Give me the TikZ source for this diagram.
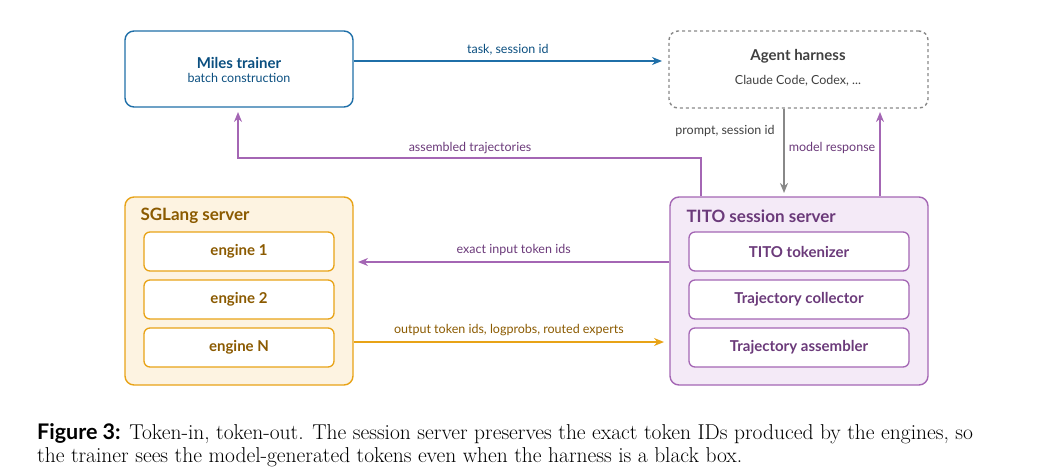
\documentclass[tikz,border=0pt]{standalone}
\usepackage{fontspec}
\newfontfamily\sff{Lato}
\usetikzlibrary{arrows.meta}
\definecolor{bl}{HTML}{1F6FA8}\definecolor{bld}{HTML}{0B4F80}
\definecolor{or}{HTML}{E8A317}\definecolor{orf}{HTML}{FDF3E1}\definecolor{ord}{HTML}{8B5A00}
\definecolor{pu}{HTML}{A466B4}\definecolor{puf}{HTML}{F4EAF7}\definecolor{pud}{HTML}{6B3A7A}
\definecolor{gr}{HTML}{888888}
\begin{document}
\begin{tikzpicture}[x=1pt,y=-1pt,
 box/.style={draw,rounded corners=9pt,line width=1.4pt},
 inner/.style={draw,rounded corners=6pt,fill=white,line width=1.3pt,minimum width=190pt,minimum height=39pt,font=\sff\bfseries\fontsize{15}{17}\selectfont},
 lab/.style={font=\sff\fontsize{12.5}{14}\selectfont},
 arr/.style={-{Stealth[length=10pt,width=8pt]},line width=1.6pt}]
\useasboundingbox (0,0) rectangle (1059,476);
\node[box,draw=bl,minimum width=228pt,minimum height=76pt] (miles) at (239,69) {};
\node[font=\sff\bfseries\fontsize{15}{17}\selectfont,text=bld] at (239,63) {Miles trainer};
\node[lab,text=bld] at (239,78) {batch construction};
\node[box,draw=gr,dashed,minimum width=259pt,minimum height=77pt] (agent) at (798.5,69.5) {};
\node[font=\sff\bfseries\fontsize{15}{17}\selectfont,text=black!75] at (798,56) {Agent harness};
\node[lab,text=black!75] at (798,81) {Claude Code, Codex, ...};
\node[box,draw=or,fill=orf,minimum width=228pt,minimum height=188pt] (sg) at (239,291) {};
\node[anchor=west,font=\sff\bfseries\fontsize{17}{19}\selectfont,text=ord] at (137,216) {SGLang server};
\node[inner,draw=or,text=ord] (e1) at (239,251.5) {engine 1};
\node[inner,draw=or,text=ord] (e2) at (239,299.5) {engine 2};
\node[inner,draw=or,text=ord] (eN) at (239,347.5) {engine N};
\node[box,draw=pu,fill=puf,minimum width=258pt,minimum height=188pt] (tito) at (799,291) {};
\node[anchor=west,font=\sff\bfseries\fontsize{17}{19}\selectfont,text=pud] at (683,216) {TITO session server};
\node[inner,draw=pu,text=pud,minimum width=220pt] (t1) at (799,251.5) {TITO tokenizer};
\node[inner,draw=pu,text=pud,minimum width=220pt] (t2) at (799,299.5) {Trajectory collector};
\node[inner,draw=pu,text=pud,minimum width=220pt] (t3) at (799,347.5) {Trajectory assembler};
\coordinate (a1) at (662,61);
\draw[arr,draw=bl] (miles.east|-a1) -- (a1) node[lab,text=bld,midway,above=2pt]{task, session id};
\coordinate (c1) at (701,158);\coordinate (c2) at (238,158);\coordinate (c3) at (238,112);
\draw[arr,draw=pu] (c1|-tito.north) -- (c1) -- (c2) -- (c3);
\node[lab,text=pud] at (470,148) {assembled trajectories};
\coordinate (p1) at (784,193);
\draw[arr,draw=gr] (p1|-agent.south) -- (p1);
\node[lab,text=black!75] at (725,131) {prompt, session id};
\coordinate (m1) at (880,112);
\draw[arr,draw=pu] (m1|-tito.north) -- (m1);
\node[lab,text=pud] at (832,148) {model response};
\coordinate (x1) at (358,262);
\draw[arr,draw=pu] (tito.west|-x1) -- (x1) node[lab,text=pud,midway,above=2pt]{exact input token ids};
\coordinate (o1) at (664,342);
\draw[arr,draw=or] (sg.east|-o1) -- (o1) node[lab,text=ord,midway,above=2pt]{output token ids, logprobs, routed experts};
\node[anchor=west,font=\fontsize{21.5}{24}\selectfont,inner sep=0pt] (cap1) at (37,434) {{\sff\bfseries Figure 3:} Token-in, token-out. The session server preserves the exact token IDs produced by the engines, so};
\node[anchor=west,font=\fontsize{21.5}{24}\selectfont,inner sep=0pt] (cap2) at (37,457) {the trainer sees the model-generated tokens even when the harness is a black box.};
\end{tikzpicture}
\end{document}
